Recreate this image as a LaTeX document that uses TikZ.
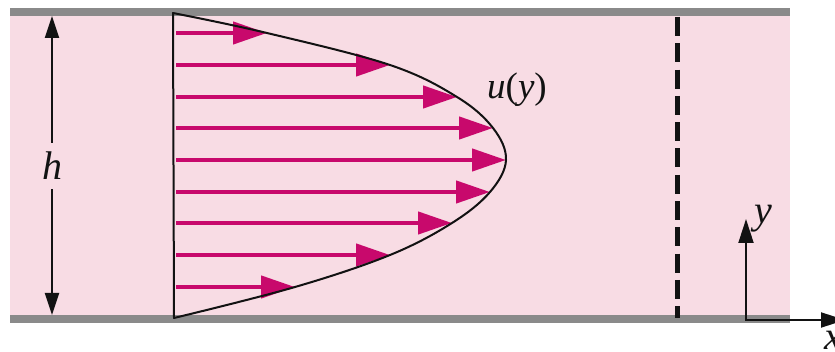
\documentclass[tikz,border=0pt]{standalone}
\usepackage{fontspec}
\setmainfont{Liberation Serif}
\usetikzlibrary{arrows.meta}
\definecolor{diagramText}{HTML}{121212}
\definecolor{channelFill}{HTML}{F8DCE4}
\definecolor{wallColor}{HTML}{8A8A8A}
\definecolor{velocityColor}{HTML}{C8096C}
\newcommand{\varlabel}[2]{{\fontsize{#1}{#1}\selectfont\itshape\color{diagramText}#2}}

\begin{document}
\begin{tikzpicture}[
  x=1pt, y=-1pt,
  channel/.style={fill=channelFill, draw=none},
  wall/.style={fill=wallColor, draw=none},
  profile/.style={draw=diagramText, line width=2pt, line join=round},
  velocity/.style={-{Triangle[length=34pt,width=22pt]}, draw=velocityColor, line width=4.4pt},
  dimension/.style={-{Triangle[length=22pt,width=14pt]}, draw=diagramText, line width=2pt},
  section/.style={draw=diagramText, line width=5pt, dash pattern=on 19pt off 7.3pt},
  axis/.style={-{Triangle[length=24pt,width=15pt]}, draw=diagramText, line width=2pt}
]
\useasboundingbox (0,0) rectangle (835,352);

% Channel between the two plates.
\fill[channel] (10,16) rectangle (790,315);
\fill[wall] (10,8) rectangle (790,16);
\fill[wall] (10,315) rectangle (790,323);

% Ends of the velocity vectors on the profile.
\coordinate (ptop) at (173,13);
\coordinate (pbot) at (174,318);
\coordinate (tail1) at (176,33);
\coordinate (tail2) at (176,65);
\coordinate (tail3) at (176,97);
\coordinate (tail4) at (176,128);
\coordinate (tail5) at (176,160);
\coordinate (tail6) at (176,192);
\coordinate (tail7) at (176,223);
\coordinate (tail8) at (176,255);
\coordinate (tail9) at (176,287);
\coordinate (tip1) at (267,33);
\coordinate (tip2) at (390,65);
\coordinate (tip3) at (457,97);
\coordinate (tip4) at (493,128);
\coordinate (tip5) at (506,160);
\coordinate (tip6) at (490,192);
\coordinate (tip7) at (452,223);
\coordinate (tip8) at (390,255);
\coordinate (tip9) at (295,287);

\draw[velocity] (tail1) -- (tip1);
\draw[velocity] (tail2) -- (tip2);
\draw[velocity] (tail3) -- (tip3);
\draw[velocity] (tail4) -- (tip4);
\draw[velocity] (tail5) -- (tip5);
\draw[velocity] (tail6) -- (tip6);
\draw[velocity] (tail7) -- (tip7);
\draw[velocity] (tail8) -- (tip8);
\draw[velocity] (tail9) -- (tip9);

% Parabolic profile closed by the inlet line.
\draw[profile] plot[smooth, tension=0.6] coordinates {(ptop) (tip1) (tip2) (tip3) (tip4) (tip5) (tip6) (tip7) (tip8) (tip9) (pbot)} -- cycle;
\node[anchor=base west, inner sep=0pt] (ulabel) at (487,99) {\varlabel{37}{u}\varlabel{37}{\upshape(}\varlabel{37}{y}\varlabel{37}{\upshape)}};

% Channel height.
\coordinate (htop) at (52,16);
\coordinate (hbot) at (52,315);
\node[minimum height=46pt, inner sep=0pt] (hlabel) at (52,166) {\varlabel{40}{h}};
\draw[dimension] (hlabel) -- (htop);
\draw[dimension] (hlabel) -- (hbot);

% Downstream section.
\coordinate (stop) at (677,17);
\coordinate (sbot) at (677,318);
\draw[section] (stop) -- (sbot);

% Coordinate axes.
\coordinate (origin) at (746,320);
\coordinate (ytip) at (746,219);
\coordinate (xtip) at (845,320);
\draw[axis] (origin) -- (ytip);
\draw[axis, shorten <=-1pt] (origin) -- (xtip);
\node[anchor=base west, inner sep=0pt] (ylabel) at (754,224) {\varlabel{40}{y}};
\node[anchor=base west, inner sep=0pt] (xlabel) at (824,350) {\varlabel{40}{x}};

\end{tikzpicture}
\end{document}
